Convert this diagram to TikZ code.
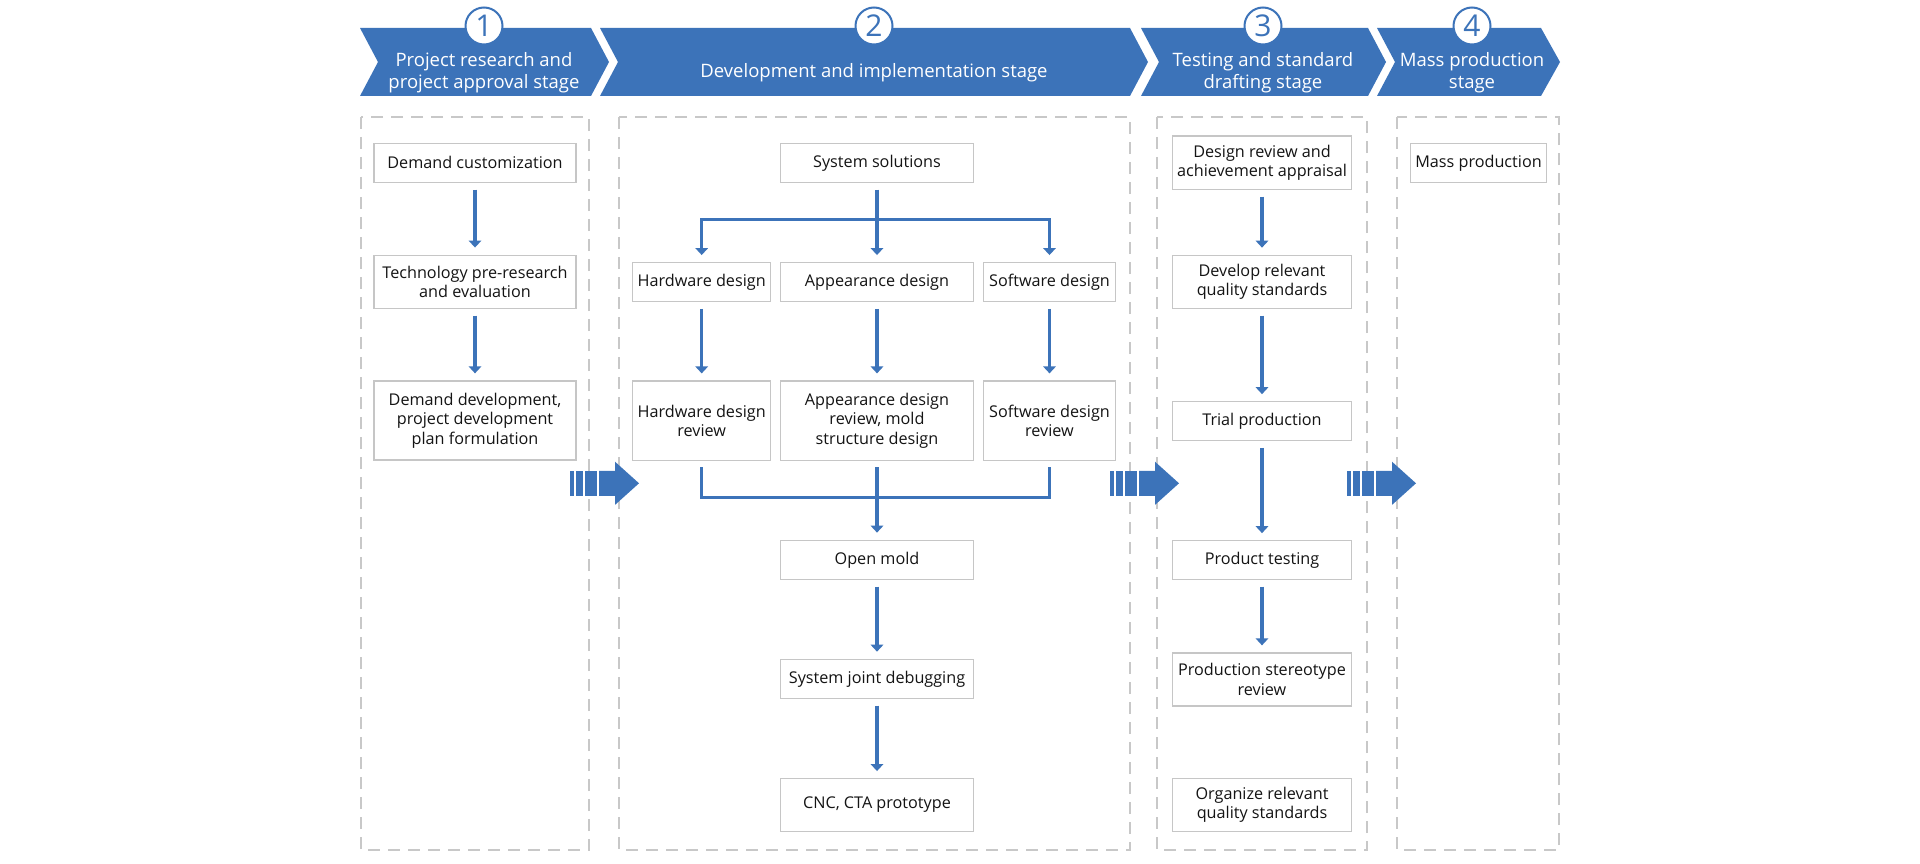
\documentclass[tikz,border=0pt]{standalone}
\usepackage{fontspec}
\setmainfont{Open Sans}
\usetikzlibrary{arrows.meta}
\definecolor{mblue}{RGB}{60,115,185}
\definecolor{bgray}{RGB}{198,198,198}
\definecolor{dgray}{RGB}{200,200,200}
\definecolor{txt}{RGB}{20,20,20}
\newcommand\bxfont{\fontsize{16.2}{19.3}\selectfont}
\newcommand\bnfont{\fontsize{18.5}{22.5}\selectfont}
\begin{document}
\begin{tikzpicture}[x=1pt,y=-1pt]
\tikzset{
 procbox/.style={draw=bgray, line width=1.3pt, fill=white, inner sep=0pt, align=center, font=\bxfont, text=txt},
 stagebox/.style={draw=dgray, line width=1.3pt, dash pattern=on 12pt off 8pt},
 bantext/.style={text=white, font=\bnfont, align=center, inner sep=0pt},
 numcirc/.style={circle, draw=mblue, fill=white, line width=2pt, minimum size=37pt, inner sep=0pt, text=mblue, font=\fontsize{30}{30}\selectfont},
 conn/.style={draw=mblue, line width=3.3pt},
 flowarrow/.style={conn, -{Triangle[width=12.5pt,length=7pt]}},
 stripearrow/.pic={
   \fill[mblue] (0,-12.5) rectangle (4.3,12.5);
   \fill[mblue] (6,-12.5) rectangle (13.3,12.5);
   \fill[mblue] (15,-12.5) rectangle (26.7,12.5);
   \fill[mblue] (29,-12.5) -- (45,-12.5) -- (45,-21.6) -- (69,0) -- (45,21.6) -- (45,12.5) -- (29,12.5) -- cycle;
 }
}
% background / bounding box
\fill[white] (0,0) rectangle (1920,864);
\useasboundingbox (0,0) rectangle (1920,864);

% stage frames
\draw[stagebox] (361,117) rectangle (589,850);
\draw[stagebox] (619,117) rectangle (1130,850);
\draw[stagebox] (1157,117) rectangle (1367,850);
\draw[stagebox] (1397,117) rectangle (1559,850);

% banners
\fill[mblue] (360,28) -- (591,28) -- (609,62) -- (591,96) -- (360,96) -- (378,62) -- cycle;
\fill[mblue] (600,28) -- (1130,28) -- (1148,62) -- (1130,96) -- (600,96) -- (618,62) -- cycle;
\fill[mblue] (1141,28) -- (1368,28) -- (1386,62) -- (1368,96) -- (1141,96) -- (1159,62) -- cycle;
\fill[mblue] (1377,28) -- (1541,28) -- (1560,62) -- (1541,96) -- (1377,96) -- (1395,62) -- cycle;

\node[numcirc] (n1) at (484,26) {1};
\node[numcirc] (n2) at (874,26) {2};
\node[numcirc] (n3) at (1263,26) {3};
\node[numcirc] (n4) at (1472,26) {4};

\node[bantext] (t1) at (484,72.5) {Project research and\\project approval stage};
\node[bantext] (t2) at (874,72.5) {Development and implementation stage};
\node[bantext] (t3) at (1263,72.5) {Testing and standard\\drafting stage};
\node[bantext] (t4) at (1472,72.5) {Mass production\\stage};

% striped arrows between stages
\pic at (570,483.3) {stripearrow};
\pic at (1110,483.3) {stripearrow};
\pic at (1347,483.3) {stripearrow};

% column 1
\node[procbox, minimum width=202pt, minimum height=39pt] (c1a) at (475,162.8) {Demand customization};
\node[procbox, minimum width=202pt, minimum height=52.6pt] (c1b) at (475,282) {Technology pre-research\\and evaluation};
\node[procbox, minimum width=202pt, minimum height=79pt] (c1c) at (475,420.5) {Demand development,\\project development\\plan formulation};

% column 2
\node[procbox, minimum width=192.6pt, minimum height=39pt] (sys) at (877,162.8) {System solutions};
\node[procbox, minimum width=138pt, minimum height=39.4pt] (hw) at (701.7,282) {Hardware design};
\node[procbox, minimum width=192.6pt, minimum height=39.4pt] (ap) at (877,282) {Appearance design};
\node[procbox, minimum width=132.4pt, minimum height=39.4pt] (sw) at (1049.5,282) {Software design};
\node[procbox, minimum width=138pt, minimum height=79.3pt] (hwr) at (701.7,420.7) {Hardware design\\review};
\node[procbox, minimum width=192.6pt, minimum height=79.3pt] (apr) at (877,420.7) {Appearance design\\review, mold\\structure design};
\node[procbox, minimum width=132.4pt, minimum height=79.3pt] (swr) at (1049.5,420.7) {Software design\\review};
\node[procbox, minimum width=193pt, minimum height=39pt] (om) at (877,559.8) {Open mold};
\node[procbox, minimum width=193pt, minimum height=39pt] (sjd) at (877,678.8) {System joint debugging};
\node[procbox, minimum width=193pt, minimum height=53pt] (cnc) at (877,804.8) {CNC, CTA prototype};

% column 3
\node[procbox, minimum width=179.4pt, minimum height=53.3pt] (dr) at (1262,162.7) {Design review and\\achievement appraisal};
\node[procbox, minimum width=179.4pt, minimum height=53pt] (drq) at (1262,281.8) {Develop relevant\\quality standards};
\node[procbox, minimum width=179.4pt, minimum height=38.8pt] (tp) at (1262,421.2) {Trial production};
\node[procbox, minimum width=179.4pt, minimum height=39pt] (pt) at (1262,559.8) {Product testing};
\node[procbox, minimum width=179.4pt, minimum height=53pt] (psr) at (1262,679.5) {Production stereotype\\review};
\node[procbox, minimum width=179.4pt, minimum height=53pt] (org) at (1262,804.8) {Organize relevant\\quality standards};

% column 4
\node[procbox, minimum width=136.4pt, minimum height=39pt] (mp) at (1478.5,162.8) {Mass production};

% connectors column 1
\draw[flowarrow, shorten <=6.7pt, shorten >=7.5pt] (c1a) -- (c1b);
\draw[flowarrow, shorten <=6.7pt, shorten >=7pt] (c1b) -- (c1c);

% connectors column 2
\coordinate (split) at (877,219.3);
\coordinate (merge) at (877,497.3);
\draw[conn] ([yshift=-6.7pt]sys.south) -- (split);
\draw[flowarrow] (split) -| ([yshift=6.6pt]hw.north);
\draw[flowarrow] (split) -| ([yshift=6.6pt]sw.north);
\draw[flowarrow] (split) -- ([yshift=6.6pt]ap.north);
\draw[flowarrow, shorten <=6.6pt, shorten >=7pt] (hw) -- (hwr);
\draw[flowarrow, shorten <=6.6pt, shorten >=7pt] (ap) -- (apr);
\draw[flowarrow, shorten <=6.6pt, shorten >=7pt] (sw) -- (swr);
\draw[conn] ([yshift=-6.4pt]hwr.south) |- (merge);
\draw[conn] ([yshift=-6.4pt]swr.south) |- (merge);
\draw[flowarrow, shorten <=6.4pt, shorten >=7pt] (apr) -- (om);
\draw[flowarrow, shorten <=6.7pt, shorten >=7pt] (om) -- (sjd);
\draw[flowarrow, shorten <=6.7pt, shorten >=6.6pt] (sjd) -- (cnc);

% connectors column 3
\draw[flowarrow, shorten <=6.7pt, shorten >=7pt] (dr) -- (drq);
\draw[flowarrow, shorten <=6.7pt, shorten >=7pt] (drq) -- (tp);
\draw[flowarrow, shorten <=6.7pt, shorten >=6.5pt] (tp) -- (pt);
\draw[flowarrow, shorten <=6.7pt, shorten >=7pt] (pt) -- (psr);
\end{tikzpicture}
\end{document}
